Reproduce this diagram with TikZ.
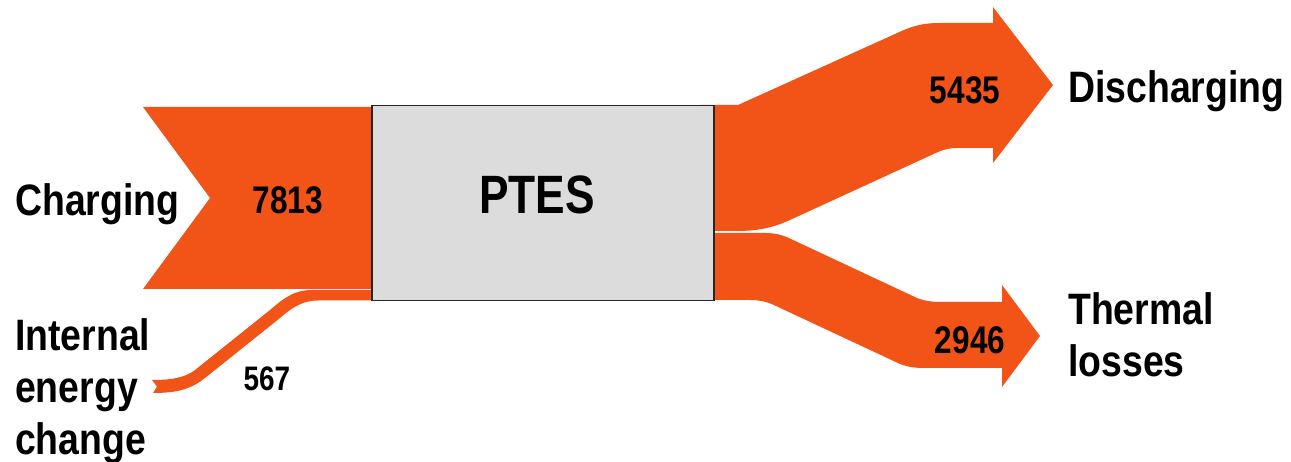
\documentclass[tikz,border=0pt]{standalone}
\usepackage{fontspec}
\setmainfont{Liberation Sans}[FakeStretch=0.82]
\newfontfamily\labfont{Liberation Sans}[FakeStretch=0.85]
\definecolor{flow}{RGB}{242,84,24}
\definecolor{boxgray}{RGB}{220,220,220}
\begin{document}
\begin{tikzpicture}[x=1pt,y=-1pt,
  band/.style={fill=flow,draw=none},
  lbl/.style={font=\labfont\fontsize{44}{52}\selectfont\bfseries, inner sep=0pt, align=left},
  num/.style={font=\fontsize{38.5}{40}\selectfont\bfseries, inner sep=0pt},
  store/.style={draw=black!85, fill=boxgray, line width=1.5pt, inner sep=0pt,
    minimum width=342pt, minimum height=195pt}]
\useasboundingbox (0,0) rectangle (1291,462);

% charging inflow
\fill[band] (143,107) -- (371,107) -- (371,289) -- (143,289) -- (210,198) -- cycle;

% internal energy change inflow
\fill[band] (371,290) -- (312,290) .. controls (295,290) and (285,297) .. (270,310)
  -- (195,370) .. controls (185,378) and (170,380) .. (152,380)
  -- (157,386.5) -- (153,393)
  .. controls (175,393) and (190,390) .. (205,378)
  -- (280,318) .. controls (295,305) and (305,300.5) .. (318,300.5)
  -- (371,300.5) -- cycle;

% discharging outflow
\fill[band] (700,105) -- (738,105) -- (895,34) .. controls (912,26) and (922,23) .. (940,23)
  -- (993,23) -- (993,7) -- (1053,85) -- (993,163) -- (993,148)
  -- (958,148) .. controls (950,148) and (945,149) .. (938,152)
  -- (790,220) .. controls (770,229) and (755,231) .. (735,231) -- (700,231) -- cycle;

% thermal losses outflow
\fill[band] (700,233) -- (765,233) .. controls (775,233) and (783,235) .. (791,239)
  -- (917,298) .. controls (925,301) and (932,302) .. (942,302)
  -- (1002,302) -- (1002,285) -- (1040,336) -- (1002,387) -- (1002,368)
  -- (925,368) .. controls (915,368) and (908,367) .. (900,364)
  -- (776,306) .. controls (768,302) and (760,300) .. (750,300) -- (700,300) -- cycle;

% storage
\node[store, anchor=north west] (ptes) at (371,105) {};
\node[inner sep=0pt, font=\fontsize{54}{56}\selectfont\bfseries, anchor=base] (ptesname) at (537,214) {PTES};

% values
\node[num, anchor=base] (vcharge) at (288,214) {7813};
\node[num, anchor=base] (vdis) at (965,104) {5435};
\node[num, anchor=base] (vloss) at (970,354) {2946};
\node[inner sep=0pt, font=\fontsize{34}{36}\selectfont\bfseries, anchor=base] (vint) at (267,390) {567};

% labels
\node[lbl, anchor=base west] (lcharge) at (15,216) {Charging};
\node[lbl, anchor=base west] (ldis) at (1068,103) {Discharging};
\node[lbl, anchor=north west] (lloss) at (1068,292) {Thermal\\losses};
\node[lbl, anchor=north west] (lint) at (15,318) {Internal\\energy\\change};
\end{tikzpicture}
\end{document}
